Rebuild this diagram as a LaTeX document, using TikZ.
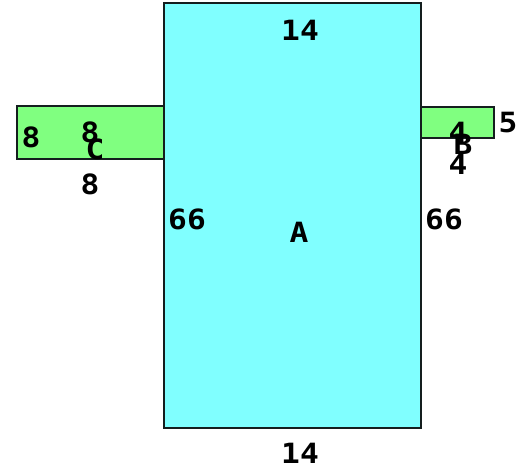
\documentclass[tikz,border=0pt]{standalone}
\usepackage{fontspec}
\setmonofont[FakeStretch=1.12]{DejaVu Sans Mono}
\definecolor{cyanfill}{RGB}{128,255,255}
\definecolor{greenfill}{RGB}{128,255,128}
\definecolor{edgecol}{RGB}{20,30,30}
\tikzset{
  blk/.style={draw=edgecol,line width=2.6bp,inner sep=0pt,outer sep=0pt},
  lbl/.style={inner sep=0pt,outer sep=0pt,text=black,font=\ttfamily\bfseries\fontsize{28}{28}\selectfont,anchor=center}
}
\begin{document}
\begin{tikzpicture}[x=1bp,y=-1bp]
\useasboundingbox (0,0) rectangle (529,474);
\fill[white] (0,0) rectangle (529,474);
\path[blk,fill=greenfill] (17,106) rectangle (164,159);
\path[blk,fill=greenfill] (421,107) rectangle (494,138);
\path[blk,fill=cyanfill] (164,3) rectangle (421,428);
\node[lbl] (top) at (300,30) {14};
\node[lbl] (bottom) at (300,453) {14};
\node[lbl] (left) at (187,219) {66};
\node[lbl] (right) at (444,219) {66};
\node[lbl] (a) at (299,232) {A};
\node[lbl] (la) at (31,137) {8};
\node[lbl] (lb) at (90,132) {8};
\node[lbl] (lc) at (95,149) {C};
\node[lbl] (ld) at (90,184) {8};
\node[lbl] (ra) at (458,132) {4};
\node[lbl] (rb) at (463,144) {B};
\node[lbl] (rc) at (458,164) {4};
\node[lbl] (rd) at (508,123) {5};
\end{tikzpicture}
\end{document}
